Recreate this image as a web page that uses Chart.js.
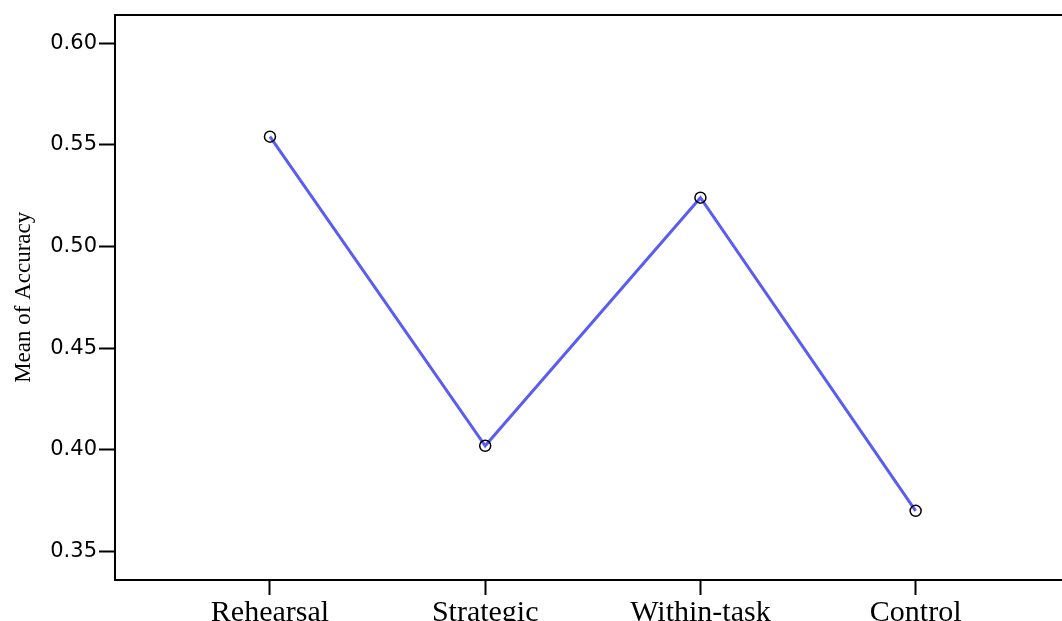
<!DOCTYPE html>
<html>
<head>
<meta charset="utf-8">
<script src="https://cdn.jsdelivr.net/npm/chart.js@4"></script>
<style>
  html, body { margin: 0; padding: 0; background: #fff; }
  #wrap { width: 1062px; height: 621px; }
</style>
</head>
<body>
<div id="wrap"><canvas id="chart"></canvas></div>
<script>
// groups along the x axis and the mean accuracy
var groups = ["Rehearsal", "Strategic", "Within-task", "Control"];
var meanAccuracy = [0.554, 0.402, 0.524, 0.370];
var yTicks = [0.35, 0.40, 0.45, 0.50, 0.55, 0.60];

var points = [];
for (var i = 0; i < groups.length; i++) {
  points.push({ x: i, y: meanAccuracy[i] });
}

var ctx = document.getElementById("chart");

var chart = new Chart(ctx, {
  type: "line",
  data: {
    datasets: [{
      label: "Mean of Accuracy",
      data: points,
      borderColor: "#5a5cf2",
      borderWidth: 3,
      backgroundColor: "rgba(255,255,255,0)",
      pointBorderColor: "#000",
      pointBorderWidth: 1.5,
      pointRadius: 5.5,
      pointBackgroundColor: "rgba(255,255,255,0)",
      fill: false,
      tension: 0
    }]
  },
  options: {
    responsive: true,
    maintainAspectRatio: false,
    animation: false,
    layout: { autoPadding: false, padding: { left: 0, right: 0, top: 14, bottom: 0 } },
    plugins: { legend: { display: false }, tooltip: { enabled: false } },
    scales: {
      x: {
        type: "linear",
        min: -0.72,
        max: 3.68,
        afterBuildTicks: function (axis) {
          axis.ticks = groups.map(function (g, i) { return { value: i }; });
        },
        afterFit: function (axis) { axis.height = 41; },
        ticks: {
          autoSkip: false,
          maxRotation: 0,
          padding: 0,
          color: "#000",
          font: { family: "Liberation Serif", size: 30 },
          callback: function (v) { return groups[v]; }
        },
        grid: { drawOnChartArea: false, tickLength: 15, tickWidth: 2, tickColor: "#000" },
        border: { color: "#000", width: 2 }
      },
      xTop: {
        type: "linear",
        position: "top",
        min: -0.72,
        max: 3.68,
        afterFit: function (axis) { axis.height = 0; },
        ticks: { display: false },
        grid: { display: false },
        border: { display: true, color: "#000", width: 2 }
      },
      y: {
        min: 0.336,
        max: 0.614,
        afterBuildTicks: function (axis) {
          axis.ticks = yTicks.map(function (v) { return { value: v }; });
        },
        afterFit: function (axis) { axis.width = 115; },
        ticks: {
          padding: 2,
          color: "#000",
          font: { family: "DejaVu Sans", size: 21 },
          callback: function (v) { return v.toFixed(2); }
        },
        grid: { drawOnChartArea: false, tickLength: 16, tickWidth: 2, tickColor: "#000" },
        border: { color: "#000", width: 2 },
        title: {
          display: true,
          text: "Mean of Accuracy",
          color: "#000",
          font: { family: "Liberation Serif", size: 23 },
          padding: { top: 10, bottom: 0 }
        }
      }
    }
  }
});
</script>
</body>
</html>
